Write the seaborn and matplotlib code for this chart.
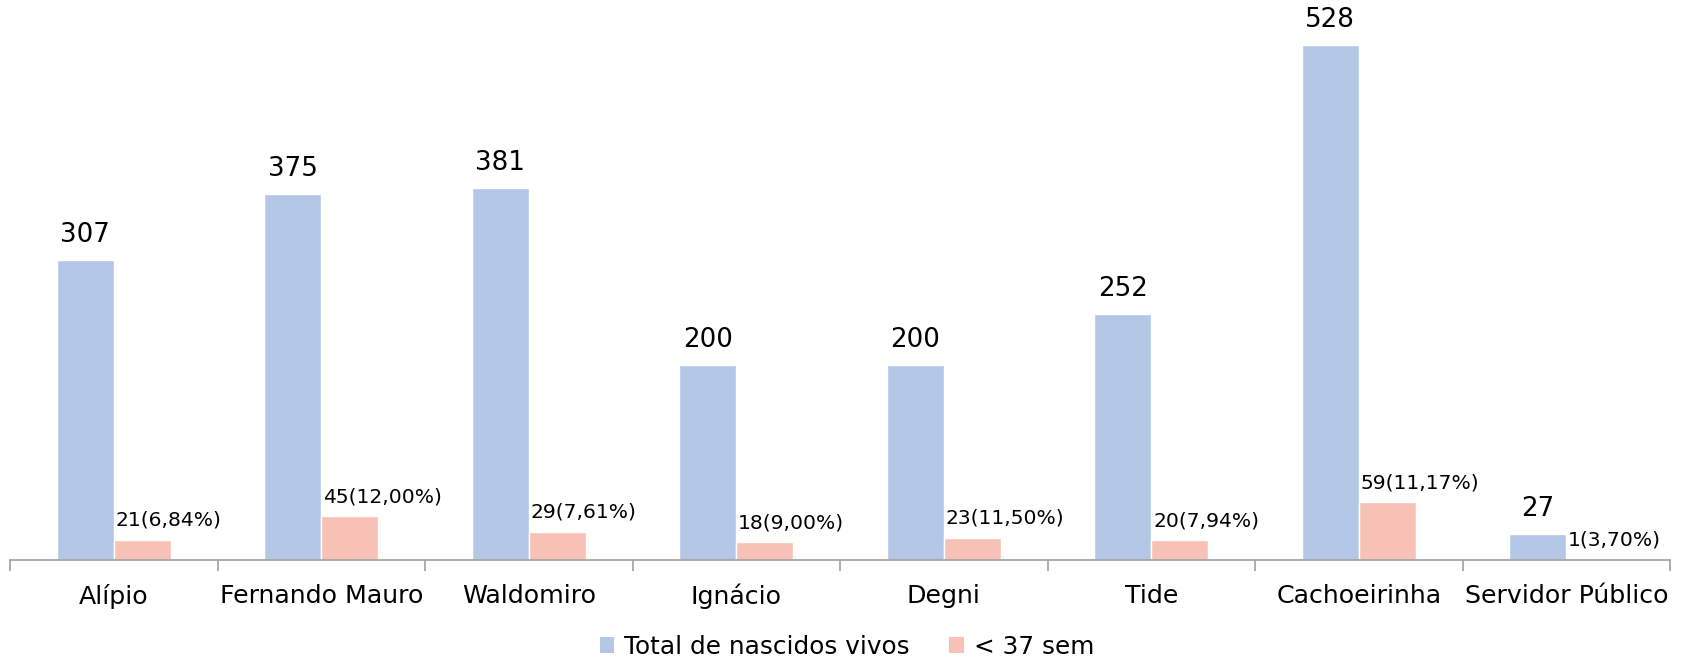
import seaborn as sns
import pandas as pd
import matplotlib.pyplot as plt
from matplotlib.ticker import FixedLocator

# data
unidades = ['Alípio', 'Fernando Mauro', 'Waldomiro', 'Ignácio', 'Degni',
            'Tide', 'Cachoeirinha', 'Servidor Público']
total_vivos = [307, 375, 381, 200, 200, 252, 528, 27]
prematuros = [21, 45, 29, 18, 23, 20, 59, 1]
pct_prematuros = ['6,84%', '12,00%', '7,61%', '9,00%', '11,50%', '7,94%', '11,17%', '3,70%']
series = ['Total de nascidos vivos', '< 37 sem']

df = pd.DataFrame({
    'Unidade': unidades * 2,
    'Serie': [series[0]] * len(unidades) + [series[1]] * len(unidades),
    'Valor': total_vivos + prematuros,
})

sns.set_style('white')
plt.rcParams['font.family'] = ['DejaVu Sans']
plt.rcParams['text.color'] = 'black'
plt.rcParams['xtick.color'] = 'black'

fig = plt.figure(figsize=(16.94, 6.65), dpi=100)
ax = fig.add_axes([10 / 1694, 105 / 665, 1660 / 1694, 560 / 665])

cores = ['#B4C7E7', '#F8C1B6']
sns.barplot(data=df, x='Unidade', y='Valor', hue='Serie', palette=cores, saturation=1,
            width=0.55, edgecolor='white', linewidth=1, ax=ax, legend=True)

ax.set_xlim(-0.5, len(unidades) - 0.5)
ax.set_ylim(0, 574)

# labels above bars
azul, rosa = ax.containers[0], ax.containers[1]
for bar, v in zip(azul, total_vivos):
    ax.annotate(str(v), (bar.get_x() + bar.get_width() / 2, bar.get_height()),
                xytext=(0, 12), textcoords='offset pixels',
                ha='center', va='bottom', fontsize=18.8, color='black')
for bar, v, p in zip(rosa, prematuros, pct_prematuros):
    ax.annotate(f'{v}({p})', (bar.get_x(), bar.get_height()),
                xytext=(2, 10), textcoords='offset pixels',
                ha='left', va='bottom', fontsize=14.6, color='black')

# axes styling
for s in ['top', 'right', 'left']:
    ax.spines[s].set_visible(False)
ax.spines['bottom'].set_color('#A6A6A6')
ax.spines['bottom'].set_linewidth(1.3)
ax.set_yticks([])
ax.set_xlabel('')
ax.set_ylabel('')
ax.tick_params(axis='x', which='major', length=0, labelsize=18.2, pad=17,
               labelcolor='black')
ax.xaxis.set_minor_locator(FixedLocator([i - 0.5 for i in range(len(unidades) + 1)]))
ax.tick_params(axis='x', which='minor', length=8, width=1.3, color='#A6A6A6', bottom=True)

handles, labels = ax.get_legend_handles_labels()
ax.get_legend().remove()
leg = fig.legend(handles, labels, loc='center', bbox_to_anchor=(0.5, 1 - 647 / 665),
                 ncol=2, frameon=False, fontsize=17.8, handlelength=0.6,
                 handleheight=0.6, handletextpad=0.4, columnspacing=1.6,
                 borderpad=0)
for t in leg.get_texts():
    t.set_color('black')
for h in leg.legend_handles:
    h.set_edgecolor('none')

fig.savefig('out.png', dpi=100)
